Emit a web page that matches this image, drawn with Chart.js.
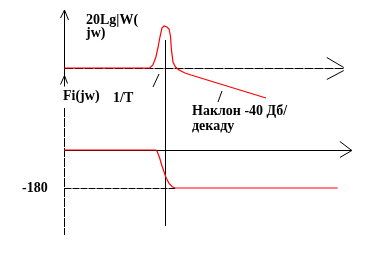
<!DOCTYPE html>
<html>
<head>
<meta charset="utf-8">
<script src="https://cdn.jsdelivr.net/npm/chart.js@4"></script>
<style>
  html, body { margin: 0; padding: 0; background: #fff; }
  canvas { display: block; }
</style>
</head>
<body>
<canvas id="bode" width="388" height="254"></canvas>
<script>
// frequency as lg(w) in decades, 0 = 1/T
const ampFreq = [-1, -0.15, -0.12, -0.09, -0.07, -0.05, -0.03, -0.01, 0.02, 0.04, 0.054, 0.064, 0.079, 0.104, 0.139, 0.198, 0.257, 1.0];
const ampDb   = [0, 0, 1.5, 5.5, 10, 15.5, 20, 21, 20.5, 19.5, 16, 9, 3, 0.5, -1, -2.5, -3.5, -15];

const phaseFreq = [-1, -0.09, -0.076, -0.052, -0.033, -0.01, 0.013, 0.04, 0.072, 0.1, 1.71];
const phaseDeg  = [0, 0, -8, -39, -71, -103, -134, -158, -174, -180, -180];

const phaseTick = -180;
const labels = {
  amp: ['20Lg|W(', 'jw)'],
  phase: 'Fi(jw)',
  corner: '1/T',
  slope: ['Наклон -40 Дб/', 'декаду'],
  tick: '-180'
};

// layout
const TOP = 10, BOTTOM = 235;
const AMP_ZERO = 68, PX_PER_DB = 2;
const PH_ZERO = 150, PX_PER_DEG = 38 / 180;
const FONT = 'bold 14px "Liberation Serif", "Times New Roman", serif';

function seg(ctx, x1, y1, x2, y2) {
  ctx.beginPath();
  ctx.moveTo(x1, y1);
  ctx.lineTo(x2, y2);
  ctx.stroke();
}

const sketch = {
  id: 'sketch',
  beforeDatasetsDraw(chart) {
    const { ctx, scales: { x, yA, yP } } = chart;
    const x0 = Math.round(x.getPixelForValue(-1)) + 0.5;
    const xc = Math.round(x.getPixelForValue(0)) + 0.5;
    const ya = Math.round(yA.getPixelForValue(0)) + 0.5;
    const yp = Math.round(yP.getPixelForValue(0)) + 0.5;
    const y180 = Math.round(yP.getPixelForValue(phaseTick)) + 0.5;
    const xEndA = x.getPixelForValue(1.77);
    const xEndP = x.getPixelForValue(1.85);

    ctx.save();
    ctx.strokeStyle = '#000';
    ctx.lineWidth = 1;

    // left axis, amplitude part + arrow
    seg(ctx, x0, TOP, x0, ya + 8);
    seg(ctx, x0, TOP, x0 - 4, TOP + 8);
    seg(ctx, x0, TOP, x0 + 4, TOP + 10);

    // phase axis arrow
    const yf = ya + 7;
    seg(ctx, x0, yf, x0 - 4, yf + 9);
    seg(ctx, x0, yf, x0 + 3, yf + 8);
    seg(ctx, x0, yf, x0, yf + 11);
    ctx.setLineDash([9, 1]);
    seg(ctx, x0, 108, x0, BOTTOM);

    // amplitude frequency axis
    seg(ctx, x0, ya, xEndA, ya);
    ctx.setLineDash([]);
    seg(ctx, xEndA - 17, ya - 11, xEndA, ya - 1);
    seg(ctx, xEndA - 17, ya + 11, xEndA, ya + 2);

    // phase frequency axis
    seg(ctx, x0, yp, xEndP, yp);
    seg(ctx, xEndP - 12, yp - 9, xEndP, yp);
    seg(ctx, xEndP - 12, yp + 7, xEndP, yp);

    // -180 reference
    ctx.setLineDash([7, 1]);
    seg(ctx, x0, y180, x.getPixelForValue(0.1), y180);
    ctx.setLineDash([]);

    // 1/T line
    seg(ctx, xc, yA.getPixelForValue(14), xc, yP.getPixelForValue(-360));

    // leader strokes
    seg(ctx, 153, 87, 159, 74);
    seg(ctx, 218, 102, 222, 91);
    ctx.restore();
  },
  afterDraw(chart) {
    const { ctx } = chart;
    ctx.save();
    ctx.fillStyle = '#000';
    ctx.font = FONT;
    ctx.textBaseline = 'alphabetic';
    ctx.fillText(labels.amp[0], 86, 24);
    ctx.fillText(labels.amp[1], 86, 37);
    ctx.fillText(labels.phase, 63, 100);
    ctx.fillText(labels.corner, 113, 102);
    ctx.fillText(labels.slope[0], 192, 115);
    ctx.fillText(labels.slope[1], 192, 130);
    ctx.fillText(labels.tick, 22, 192);
    ctx.restore();
  }
};

new Chart(document.getElementById('bode'), {
  type: 'scatter',
  data: {
    datasets: [
      {
        label: 'amplitude',
        data: ampFreq.map((f, i) => ({ x: f, y: ampDb[i] })),
        yAxisID: 'yA',
        showLine: true,
        borderColor: '#ff0000',
        borderWidth: 1.2,
        pointRadius: 0,
        clip: false
      },
      {
        label: 'phase',
        data: phaseFreq.map((f, i) => ({ x: f, y: phaseDeg[i] })),
        yAxisID: 'yP',
        showLine: true,
        borderColor: '#ff0000',
        borderWidth: 1.2,
        pointRadius: 0,
        clip: false
      }
    ]
  },
  options: {
    responsive: false,
    animation: false,
    layout: { padding: { left: 64, right: 21, top: TOP, bottom: 254 - BOTTOM } },
    plugins: { legend: { display: false }, tooltip: { enabled: false } },
    scales: {
      x: { type: 'linear', min: -1, max: 2, display: false },
      yA: {
        type: 'linear', display: false,
        min: -(BOTTOM - AMP_ZERO) / PX_PER_DB,
        max: (AMP_ZERO - TOP) / PX_PER_DB
      },
      yP: {
        type: 'linear', display: false,
        min: -(BOTTOM - PH_ZERO) / PX_PER_DEG,
        max: (PH_ZERO - TOP) / PX_PER_DEG
      }
    }
  },
  plugins: [sketch]
});
</script>
</body>
</html>
